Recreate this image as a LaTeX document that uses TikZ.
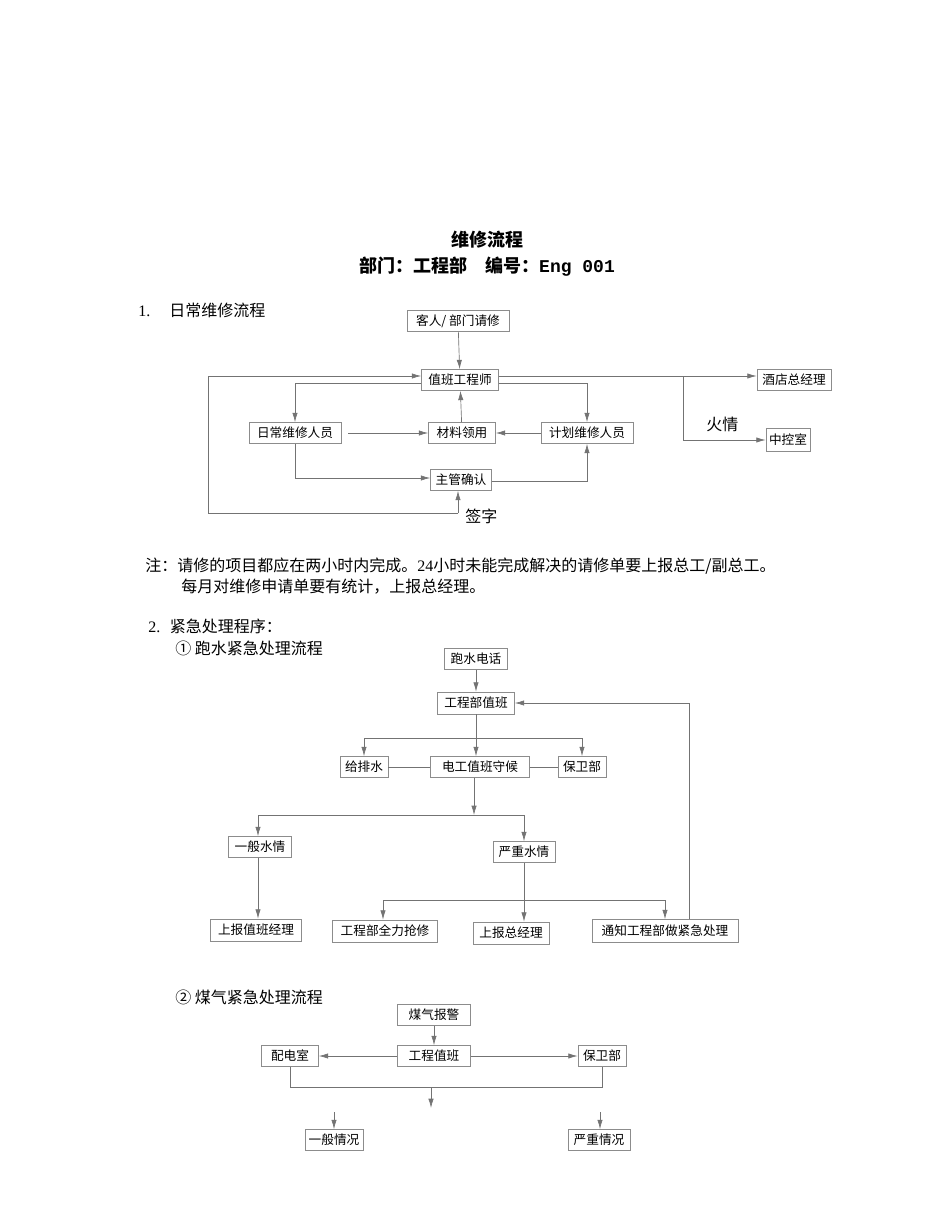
\documentclass[tikz,border=0pt]{standalone}
\usepackage{fontspec}
\setmainfont{Liberation Serif}
\newfontfamily\cjk{Noto Sans CJK SC}
\usetikzlibrary{arrows.meta}
\tikzset{
  bx/.style={draw=black!45,line width=0.5pt,inner sep=0pt,font=\cjk\fontsize{9.5}{10}\selectfont,text=black},
  ln/.style={draw=black!55,line width=0.5pt},
  ar/.style={ln,-{Latex[length=7pt,width=4pt]}},
  tx/.style={anchor=west,inner sep=0pt,font=\cjk\fontsize{12}{13}\selectfont}
}
\newcommand{\bx}[6]{\node[bx,minimum width=#4*0.75pt,minimum height=#5*0.75pt] (#1) at (#2,#3) {#6};}
\begin{document}
\begin{tikzpicture}[x=0.75pt,y=-0.75pt]
\useasboundingbox (0,0) rectangle (950,1230);
\node[font=\cjk\bfseries\fontsize{13.5}{14}\selectfont] (t1) at (487,240) {维修流程};
\node[font=\cjk\bfseries\fontsize{13.5}{14}\selectfont] (t2) at (487,267) {部门：工程部\quad 编号：\fontspec{Liberation Mono}\bfseries Eng 001};
\node[tx] (h1) at (138,310) {\fontspec{Liberation Serif}1.\hspace{1.2em}\cjk 日常维修流程};
% flow 1
\bx{a}{458}{321}{102}{21}{客人/ 部门请修}
\bx{b}{460}{380}{77}{21}{值班工程师}
\bx{c}{794}{380}{74}{21}{酒店总经理}
\bx{d}{295}{433}{92}{21}{日常维修人员}
\bx{e}{462}{433}{67}{21}{材料领用}
\bx{f}{587}{433}{92}{21}{计划维修人员}
\bx{g}{788}{440}{44}{23}{中控室}
\bx{h}{461}{480}{61}{21}{主管确认}
\node[tx] (sz) at (465,516) {签字};
\node[tx] (hq) at (706,424) {火情};
\coordinate (s1) at (458,513);
\coordinate (s2) at (208,513);
\coordinate (s3) at (683,376);
\draw[ar] (a) -- (b);
\draw[ar] (s1) -- (h.south -| s1);
\draw[ln] (s1) -- (s2);
\draw[ar] (s2) |- (b.west |- s3);
\draw[ar] (b.east |- s3) -- (c.west |- s3);
\draw[ar] (s3) |- (g.west);
\draw[ar] (b.west |- 0,383) -| (d.north);
\draw[ar] (b.east |- 0,383) -| (f.north);
\draw[ar] (e) -- (b);
\draw[ar] (348,433) -- (e.west);
\draw[ar] (f.west) -- (e.east);
\draw[ar] (d.south) |- (h.west |- 0,478);
\draw[ar] (h.east |- 0,481) -| (f.south);
% note
\node[tx] (n1) at (145,566) {注：请修的项目都应在两小时内完成。\fontspec{Liberation Serif}24\cjk 小时未能完成解决的请修单要上报总工/副总工。};
\node[tx] (n2) at (181,587) {每月对维修申请单要有统计，上报总经理。};
\node[tx] (h2) at (148,626) {\fontspec{Liberation Serif}2.\hspace{0.6em}\cjk 紧急处理程序：};
\node[tx] (h3) at (175,648) {① 跑水紧急处理流程};
% flow 2
\bx{p1}{476}{659}{63}{21}{跑水电话}
\bx{p2}{476}{703}{77}{22}{工程部值班}
\bx{p3}{364}{767}{48}{21}{给排水}
\bx{p4}{480}{767}{99}{21}{电工值班守候}
\bx{p5}{582}{767}{48}{21}{保卫部}
\bx{p6}{260}{847}{63}{21}{一般水情}
\bx{p7}{524}{852}{62}{21}{严重水情}
\bx{p8}{256}{930}{91}{22}{上报值班经理}
\bx{p9}{385}{931}{105}{22}{工程部全力抢修}
\bx{p10}{511}{933}{76}{22}{上报总经理}
\bx{p11}{665}{931}{146}{23}{通知工程部做紧急处理}
\coordinate (q1) at (476,738);
\coordinate (q2) at (474,815);
\coordinate (q3) at (524,900);
\coordinate (q4) at (689,703);
\draw[ar] (p1) -- (p2);
\draw[ln] (p2.south) -- (q1);
\draw[ln] (p3.north |- q1) -- (p5.north |- q1);
\draw[ar] (q1) -- (p2.south |- p4.north);
\draw[ar] (p3.north |- q1) -- (p3.north);
\draw[ar] (p5.north |- q1) -- (p5.north);
\draw[ln] (p3) -- (p4) (p4) -- (p5);
\draw[ar] (p4.south -| q2) -- (q2);
\draw[ln] (258,815) -- (524,815);
\draw[ar] (258,815) -- (p6.north -| 258,0);
\draw[ar] (524,815) -- (p7.north);
\draw[ar] (p6.south -| 258,0) -- (p8.north -| 258,0);
\draw[ar] (p7.south) -- (p10.north -| p7.south);
\draw[ln] (383,900) -- (665,900);
\draw[ar] (383,900) -- (p9.north -| 383,0);
\draw[ar] (665,900) -- (p11.north);
\draw[ar] (p11.north -| q4) -- (q4) -- (p2.east);
% flow 3
\node[tx] (h4) at (175,997) {② 煤气紧急处理流程};
\bx{m1}{434}{1015}{73}{21}{煤气报警}
\bx{m2}{434}{1056}{73}{21}{工程值班}
\bx{m3}{290}{1056}{57}{21}{配电室}
\bx{m4}{602}{1056}{48}{21}{保卫部}
\bx{m5}{334}{1140}{58}{21}{一般情况}
\bx{m6}{599}{1140}{62}{21}{严重情况}
\coordinate (r1) at (431,1087);
\coordinate (r2) at (431,1108);
\coordinate (r3) at (334,1112);
\coordinate (r4) at (600,1112);
\draw[ar] (m1) -- (m2);
\draw[ar] (m2) -- (m3);
\draw[ar] (m2) -- (m4);
\draw[ln] (m3.south) |- (r1) -| (m4.south);
\draw[ar] (r1) -- (r2);
\draw[ar] (r3) -- (m5.north);
\draw[ar] (r4) -- (m6.north -| r4);
\end{tikzpicture}
\end{document}
